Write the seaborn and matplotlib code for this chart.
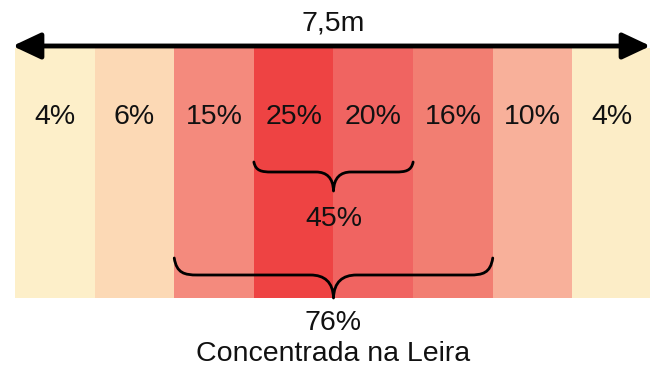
import matplotlib
matplotlib.use("Agg")
import matplotlib.pyplot as plt
from matplotlib.path import Path
from matplotlib.patches import PathPatch
import pandas as pd
import seaborn as sns

# Share of material across the eight strips of the 7.5 m windrow section
faixas = ["F1", "F2", "F3", "F4", "F5", "F6", "F7", "F8"]
percentuais = [4, 6, 15, 25, 20, 16, 10, 4]
cores = ["#FDEFC9", "#FCD9B5", "#F48A7D", "#EE4343", "#F06461",
         "#F27E72", "#F8B09A", "#FCEDC7"]
largura_total = "7,5m"
grupo_central = (3, 4)       # strips summed by the small brace
grupo_leira = (2, 3, 4, 5)   # strips summed by the large brace
legenda_leira = "Concentrada na Leira"

df = pd.DataFrame({"faixa": faixas, "pct": percentuais,
                   "altura": [250] * len(faixas)})

sns.set_theme(style="white")
plt.rcParams["font.family"] = ["Liberation Sans", "DejaVu Sans"]

fig = plt.figure(figsize=(6.5, 3.72), dpi=100)
ax = fig.add_axes([15 / 650, 0, 637 / 650, 1])

sns.barplot(data=df, x="faixa", y="altura", hue="faixa", palette=cores,
            order=faixas, width=1.0, saturation=1, legend=False,
            linewidth=0, ax=ax)

ax.set_xlim(-0.5, len(faixas) - 0.5)
ax.set_ylim(-74, 298)
ax.axis("off")

FS = 20.5
TXT = "#111111"

# strip percentages
for i, p in enumerate(percentuais):
    ax.text(i, 181, f"{p}%", ha="center", va="center", fontsize=FS,
            color=TXT)

# width arrow
ax.annotate("", xy=(-0.53, 252), xytext=(len(faixas) - 0.52, 252),
            arrowprops=dict(arrowstyle="<|-|>,head_length=0.85,head_width=0.4",
                            mutation_scale=20, lw=3.5, color="black",
                            shrinkA=0, shrinkB=0),
            annotation_clip=False)
ax.text((len(faixas) - 1) / 2, 275, largura_total, ha="center",
        va="center", fontsize=FS, color=TXT)


def chave(ax, x0, x1, yt, yf, ytip, c):
    xc = (x0 + x1) / 2
    dy = yf - ytip
    verts = [
        (x0, yt), (x0 + 0.1 * c, yf + 0.1 * (yt - yf)), (x0 + 0.45 * c, yf),
        (x0 + c, yf),
        (xc - c, yf),
        (xc - 0.4 * c, yf), (xc - 0.02 * c, yf - 0.3 * dy), (xc, ytip),
        (xc + 0.02 * c, yf - 0.3 * dy), (xc + 0.4 * c, yf), (xc + c, yf),
        (x1 - c, yf),
        (x1 - 0.45 * c, yf), (x1 - 0.1 * c, yf + 0.1 * (yt - yf)), (x1, yt),
    ]
    codes = [Path.MOVETO, Path.CURVE4, Path.CURVE4, Path.CURVE4,
             Path.LINETO,
             Path.CURVE4, Path.CURVE4, Path.CURVE4,
             Path.CURVE4, Path.CURVE4, Path.CURVE4,
             Path.LINETO,
             Path.CURVE4, Path.CURVE4, Path.CURVE4]
    ax.add_patch(PathPatch(Path(verts, codes), fill=False, lw=2.0,
                           edgecolor="black", capstyle="round",
                           joinstyle="round", clip_on=False))


# small brace over the two central strips
g1 = grupo_central
chave(ax, g1[0] - 0.5, g1[-1] + 0.5, 136, 126, 107, 0.22)
ax.text((g1[0] + g1[-1]) / 2, 79,
        f"{sum(percentuais[i] for i in g1)}%", ha="center", va="center",
        fontsize=FS, color=TXT)

# large brace over the windrow
g2 = grupo_leira
chave(ax, g2[0] - 0.5, g2[-1] + 0.5, 40, 23, 0, 0.29)
ax.text((g2[0] + g2[-1]) / 2, -25,
        f"{sum(percentuais[i] for i in g2)}%", ha="center", va="center",
        fontsize=FS, color=TXT)
ax.text((g2[0] + g2[-1]) / 2, -56, legenda_leira, ha="center",
        va="center", fontsize=FS, color=TXT)

fig.savefig("out.png", dpi=100)
